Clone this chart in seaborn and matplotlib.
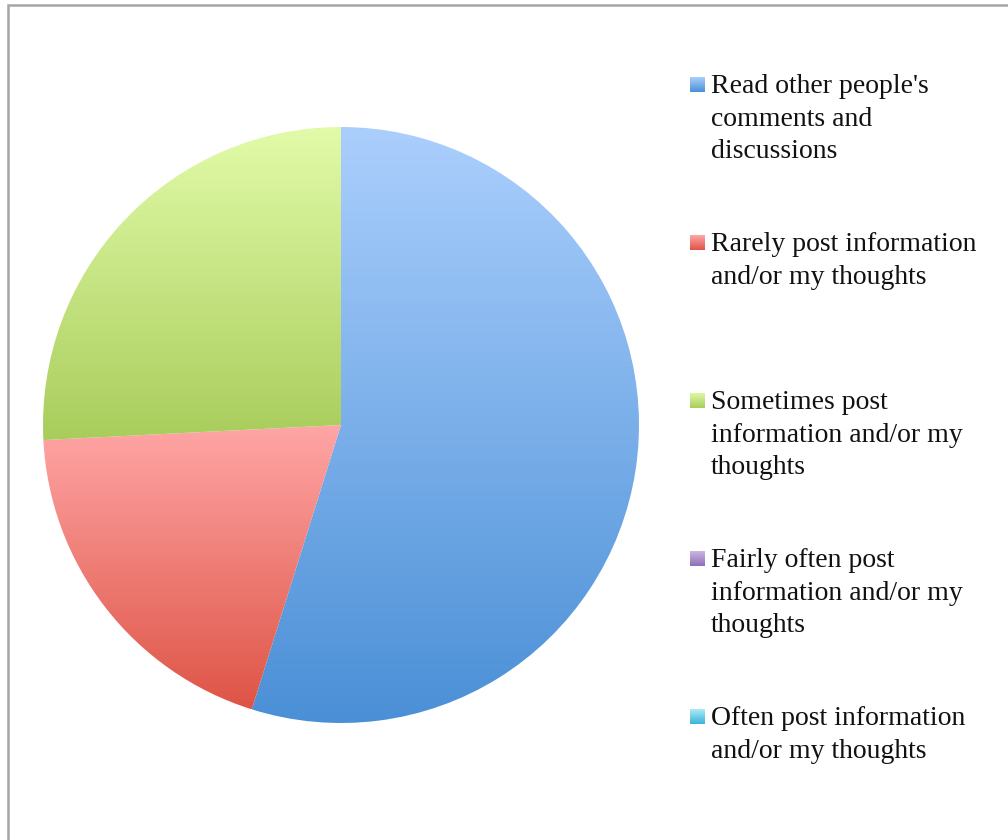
import numpy as np
import seaborn as sns
import matplotlib.pyplot as plt
from matplotlib.colors import LinearSegmentedColormap
from matplotlib.patches import Rectangle

sns.set_style('white')
plt.rcParams['font.family'] = ['Liberation Serif', 'DejaVu Serif']

labels = ["Read other people's\ncomments and\ndiscussions",
          "Rarely post information\nand/or my thoughts",
          "Sometimes post\ninformation and/or my\nthoughts",
          "Fairly often post\ninformation and/or my\nthoughts",
          "Often post information\nand/or my thoughts"]
counts = [17, 6, 8, 0, 0]
top_colors = ['#abcffd', '#ffa6a6', '#e2fba9', '#cbb6e3', '#aeeaf8']
bottom_colors = ['#4a8fd6', '#de5446', '#a9cd5c', '#8e6fb8', '#37b5d6']

fig = plt.figure(figsize=(10.08, 8.4), dpi=100)

# outer frame
fig.patches.append(Rectangle((8 / 1008, -0.05), 1.1, 1 - 5 / 840 + 0.05,
                             transform=fig.transFigure, fill=False,
                             edgecolor='#a6a6a6', linewidth=1.8))

ax = fig.add_axes([43 / 1008, (840 - 425 - 298) / 840, 596 / 1008, 596 / 840])
wedges, _ = ax.pie(counts, startangle=90, counterclock=False,
                   colors=top_colors, radius=1,
                   wedgeprops=dict(linewidth=0))

grad = np.linspace(0, 1, 256).reshape(-1, 1)
for w, c, tc, bc in zip(wedges, counts, top_colors, bottom_colors):
    if c == 0:
        continue
    verts = w.get_path().vertices
    x0, y0 = verts.min(axis=0)
    x1, y1 = verts.max(axis=0)
    cmap = LinearSegmentedColormap.from_list('g', [tc, bc])
    im = ax.imshow(grad, cmap=cmap, extent=[x0, x1, y0, y1], origin='upper',
                   aspect='auto', zorder=2, interpolation='bilinear')
    im.set_clip_path(w)
    w.set_facecolor('none')
ax.set_xlim(-1, 1)
ax.set_ylim(-1, 1)
ax.set_aspect('equal')
ax.axis('off')

# legend, one entry every 158 px
for i, (lab, tc, bc) in enumerate(zip(labels, top_colors, bottom_colors)):
    ytop = 1 - (77 + i * 158) / 840
    sq = fig.add_axes([690 / 1008, ytop - 15 / 840, 15 / 1008, 15 / 840])
    sq.imshow(grad, cmap=LinearSegmentedColormap.from_list('s', [tc, bc]),
              aspect='auto')
    sq.axis('off')
    fig.text(711 / 1008, ytop + 3 / 840, lab, fontsize=20, va='top', ha='left',
             color='#111111', linespacing=1.4)

fig.savefig('out.png', dpi=100)
